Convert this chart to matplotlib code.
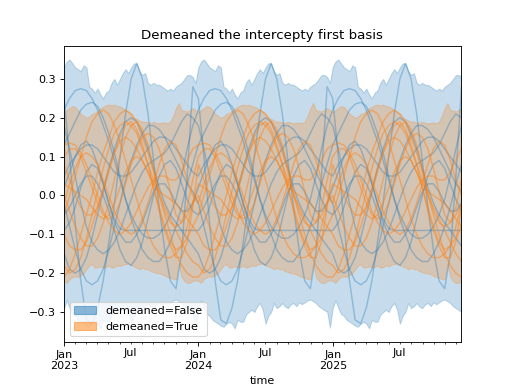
import numpy as np
import pandas as pd
import matplotlib
matplotlib.use("Agg")
import matplotlib.pyplot as plt
import matplotlib.dates as mdates
from matplotlib.patches import Patch
from matplotlib.ticker import FuncFormatter

start = pd.Timestamp("2023-01-01")
n_years = 3

# one-year profiles (the seasonality repeats every year)
# sample curves: 24 points per year
blue_curves = [
    [.22, .25, .27, .275, .27, .25, .22, .18, .14, .09, .04, -.01, -.05, -.08, -.10, -.11, -.11, -.10, -.08, -.05, -.01, .05, .12, .18],
    [.13, .16, .19, .22, .235, .24, .23, .20, .16, .11, .05, -.01, -.06, -.10, -.14, -.16, -.17, -.17, -.15, -.12, -.08, -.03, .03, .08],
    [.25, .10, -.07, -.22, -.32, -.33, -.29, -.22, -.12, -.02, .10, .21, .30, .34, .30, .21, .09, -.03, -.14, -.22, -.24, -.15, .05, .28],
    [-.09, -.07, -.03, .02, .06, .08, .07, .03, -.02, -.06, -.085, -.09, -.09, -.09, -.09, -.09, -.09, -.09, -.09, -.09, -.09, -.09, -.09, -.09],
    [.05, .08, .10, .12, .13, .13, .12, .10, .08, .06, .05, .05, .06, .08, .10, .12, .14, .15, .15, .14, .12, .10, .08, .06],
    [-.15, -.19, -.20, -.19, -.16, -.11, -.05, .01, .07, .12, .16, .19, .20, .19, .16, .12, .07, .02, -.02, -.05, -.07, -.09, -.11, -.13],
    [-.02, -.08, -.14, -.19, -.22, -.23, -.22, -.19, -.14, -.08, -.02, .04, .09, .13, .16, .18, .18, .17, .15, .12, .09, .06, .03, .01],
    [.18, .12, .05, -.02, -.08, -.12, -.14, -.15, -.14, -.12, -.09, -.05, -.01, .03, .06, .08, .09, .10, .11, .13, .16, .19, .21, .20],
    [-.05, -.03, .00, .03, .05, .05, .03, .00, -.04, -.09, -.14, -.17, -.18, -.16, -.12, -.06, .00, .05, .08, .09, .07, .03, -.01, -.04],
    [.02, .06, .10, .13, .14, .12, .08, .03, -.02, -.07, -.10, -.12, -.12, -.10, -.07, -.03, .01, .03, .03, .01, -.02, -.04, -.04, -.02],
]
orange_curves = [
    [-.21, -.19, -.15, -.10, -.05, .00, .06, .11, .15, .19, .21, .22, .21, .19, .15, .11, .06, .00, -.05, -.10, -.15, -.18, -.20, -.21],
    [-.05, .00, .05, .10, .15, .19, .21, .22, .21, .18, .14, .09, .04, -.01, -.06, -.10, -.13, -.15, -.16, -.16, -.15, -.13, -.11, -.08],
    [.13, .135, .13, .11, .08, .04, .00, -.04, -.07, -.09, -.10, -.09, -.07, -.04, -.01, .02, .04, .05, .05, .04, .04, .06, .09, .12],
    [.00, -.04, -.08, -.11, -.13, -.13, -.11, -.07, -.02, .04, .10, .15, .18, .19, .17, .13, .07, .01, -.04, -.07, -.08, -.07, -.05, -.02],
    [.08, .04, .00, -.03, -.05, -.05, -.03, .01, .06, .11, .15, .18, .19, .17, .13, .08, .02, -.04, -.09, -.13, -.16, -.16, -.12, -.03],
    [-.10, -.13, -.14, -.14, -.12, -.08, -.03, .02, .07, .11, .14, .15, .14, .12, .09, .06, .03, .01, .00, -.01, -.02, -.04, -.06, -.08],
    [.10, .12, .12, .10, .06, .02, -.02, -.05, -.06, -.05, -.02, .03, .08, .12, .15, .16, .15, .12, .07, .01, -.05, -.07, -.03, .04],
    [-.18, -.20, -.19, -.16, -.11, -.05, .01, .07, .12, .16, .18, .19, .18, .16, .12, .08, .04, .00, -.03, -.06, -.09, -.12, -.15, -.17],
    [.03, .02, .01, .00, -.01, -.03, -.05, -.06, -.05, -.02, .02, .06, .09, .10, .09, .06, .02, -.03, -.08, -.12, -.14, -.13, -.08, -.02],
    [-.02, .03, .07, .10, .11, .10, .08, .04, .00, -.04, -.07, -.09, -.10, -.09, -.06, -.02, .03, .08, .12, .14, .13, .09, .04, .00],
]

# hdi bands: 48 points per year
blue_upper = [.33, .345, .35, .34, .33, .325, .32, .335, .33, .28, .275, .265, .275, .26, .25, .265,
              .27, .29, .30, .285, .30, .315, .325, .315, .33, .34, .34, .32, .31, .315, .29, .285,
              .29, .285, .285, .28, .275, .27, .275, .27, .28, .285, .29, .30, .31, .31, .305, .29]
blue_lower = [-.29, -.27, -.29, -.305, -.31, -.32, -.325, -.33, -.335, -.338, -.33, -.325, -.33, -.342, -.32, -.325,
              -.325, -.307, -.30, -.294, -.30, -.285, -.277, -.294, -.33, -.31, -.30, -.277, -.29, -.285, -.277, -.286,
              -.29, -.28, -.277, -.285, -.275, -.28, -.275, -.27, -.268, -.272, -.277, -.285, -.29, -.295, -.299, -.34]
orange_upper = [.215, .22, .225, .23, .228, .22, .21, .205, .20, .203, .21, .212, .218, .225, .228, .232,
                .234, .232, .234, .23, .229, .225, .22, .216, .21, .20, .197, .193, .19, .19, .188, .187,
                .19, .187, .186, .187, .188, .186, .19, .205, .225, .238, .22, .218, .216, .22, .225, .22]
orange_lower = [-.22, -.225, -.215, -.21, -.208, -.21, -.205, -.20, -.19, -.18, -.177, -.186, -.185, -.182, -.186, -.184,
                -.18, -.186, -.184, -.18, -.182, -.178, -.177, -.175, -.18, -.182, -.186, -.19, -.186, -.19, -.19, -.195,
                -.197, -.20, -.20, -.203, -.207, -.21, -.212, -.215, -.216, -.175, -.21, -.22, -.225, -.225, -.22, -.218]


def dates_for(n_per_year):
    days = np.arange(n_per_year * n_years) * 365.0 / n_per_year
    return start + pd.to_timedelta(days, unit="D")


def repeat(profile):
    return np.tile(np.array(profile), n_years)


t_line = dates_for(24)
t_band = dates_for(48)

fig, ax = plt.subplots(figsize=(6.4, 4.8), dpi=80)

groups = [
    ("C0", blue_lower, blue_upper, blue_curves, 0.35),
    ("C1", orange_lower, orange_upper, orange_curves, 0.45),
]
for color, lo, hi, curves, a in groups:
    ax.fill_between(t_band, repeat(lo), repeat(hi), color=color, alpha=0.25, lw=1)
    for c in curves:
        ax.plot(t_line, repeat(c), color=color, alpha=a, lw=1.3)

ax.set_xlim(start, pd.Timestamp("2025-12-14"))
ax.xaxis.set_major_locator(mdates.MonthLocator(bymonth=1))
ax.xaxis.set_major_formatter(mdates.DateFormatter("%b\n%Y"))
ax.xaxis.set_minor_locator(mdates.MonthLocator())
ax.xaxis.set_minor_formatter(FuncFormatter(
    lambda x, pos: "Jul" if mdates.num2date(x).month == 7 else ""))
ax.set_xlabel("time")
ax.set_title("Demeaned the intercepty first basis")

handles = [Patch(color="C0", alpha=0.5, label="demeaned=False"),
           Patch(color="C1", alpha=0.5, label="demeaned=True")]
ax.legend(handles=handles, loc="lower left")

fig.savefig("out.png")
